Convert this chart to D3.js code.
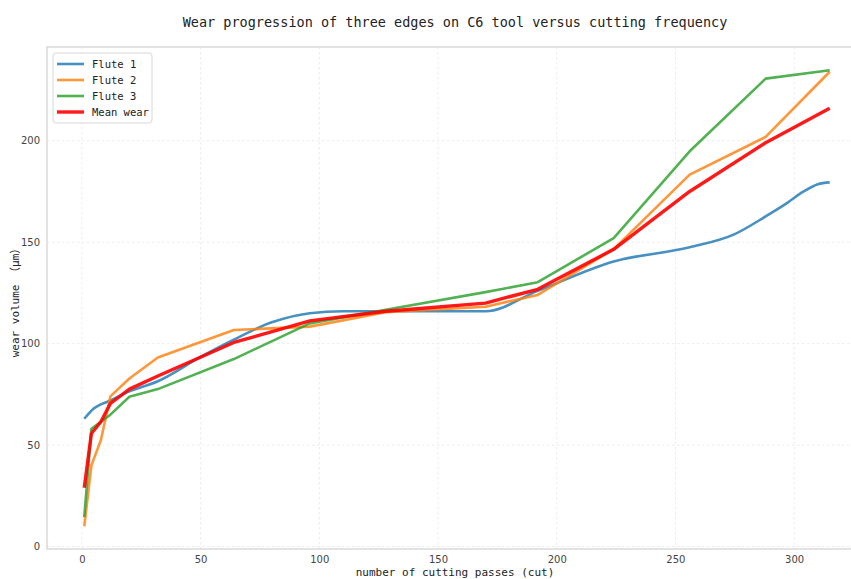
<!DOCTYPE html>
<html>
<head>
<meta charset="utf-8">
<title>Wear progression of three edges on C6 tool</title>
<script src="https://cdn.jsdelivr.net/npm/d3@7"></script>
<style>
  html, body { margin: 0; padding: 0; background: #fff; overflow: hidden; }
  #chart { width: 851px; height: 579px; }
  .tick text { font-family: "DejaVu Sans", sans-serif; font-size: 10px; fill: #444; }
  .grid line { stroke: #ececec; stroke-dasharray: 2.5,2.5; }
  .mono { font-family: "DejaVu Sans Mono", "Noto Sans CJK SC", monospace; fill: #222; }
</style>
</head>
<body>
<div id="chart"></div>
<script>
// cutting passes shared by flute 2, flute 3 and the mean
var passes = [1, 4, 8, 12, 20, 32, 64, 96, 128, 170, 192, 224, 256, 288, 315];
var flute2 = [10, 40, 52.5, 74, 82.8, 93.2, 106.7, 108.4, 115.5, 118.2, 124, 146.6, 183.3, 201.9, 234];
var flute3 = [14.5, 58, 61.5, 65, 73.8, 77.6, 92.4, 110, 116.7, 125.4, 130.3, 152, 194.8, 230.6, 234.7];
var meanWear = [29, 55.7, 61.5, 70.5, 77.6, 84.1, 100.6, 111.2, 116, 120, 126.8, 146.5, 175, 199, 216];

// flute 1 is drawn as a smooth curve, read at more places
var flute1Passes = [1, 5, 12, 20, 32, 50, 64, 80, 96, 110, 170, 192, 224, 256, 275, 288, 296, 304, 310, 315];
var flute1 = [63, 68, 72, 76.5, 81.5, 93.5, 102, 110.5, 115, 116, 116, 126, 140.5, 147.5, 154, 162.7, 168.5, 175, 178.6, 179.5];

var xTicks = [0, 50, 100, 150, 200, 250, 300];
var yTicks = [0, 50, 100, 150, 200];

(function () {
  var width = 851, height = 579;
  var plot = { left: 47, right: 867, top: 47, bottom: 549 };

  var svg = d3.select("#chart").append("svg")
    .attr("width", width)
    .attr("height", height);

  var x = d3.scaleLinear().domain([-14.7, 330.7]).range([plot.left, plot.right]);
  var y = d3.scaleLinear().domain([-1.2, 246.2]).range([plot.bottom, plot.top]);

  // grid
  svg.append("g").attr("class", "grid")
    .selectAll("line.v").data(xTicks).join("line")
    .attr("x1", x).attr("x2", x)
    .attr("y1", plot.top).attr("y2", plot.bottom);
  svg.append("g").attr("class", "grid")
    .selectAll("line.h").data(yTicks).join("line")
    .attr("x1", plot.left).attr("x2", plot.right)
    .attr("y1", y).attr("y2", y);

  // frame
  svg.append("rect")
    .attr("x", plot.left).attr("y", plot.top)
    .attr("width", plot.right - plot.left).attr("height", plot.bottom - plot.top)
    .attr("fill", "none").attr("stroke", "#d0d0d0").attr("stroke-width", 1.2);

  // axes, labels only
  var xAxis = svg.append("g")
    .attr("transform", "translate(0," + plot.bottom + ")")
    .call(d3.axisBottom(x).tickValues(xTicks).tickSize(0).tickPadding(7));
  var yAxis = svg.append("g")
    .attr("transform", "translate(" + plot.left + ",0)")
    .call(d3.axisLeft(y).tickValues(yTicks).tickSize(0).tickPadding(7));
  xAxis.select(".domain").remove();
  yAxis.select(".domain").remove();

  var series = [
    { name: "Flute 1", xs: flute1Passes, ys: flute1, color: "#1f77b4", width: 2.6, opacity: 0.82, curve: d3.curveMonotoneX },
    { name: "Flute 2", xs: passes, ys: flute2, color: "#ff7f0e", width: 2.6, opacity: 0.82, curve: d3.curveLinear },
    { name: "Flute 3", xs: passes, ys: flute3, color: "#2ca02c", width: 2.6, opacity: 0.82, curve: d3.curveLinear },
    { name: "Mean wear", xs: passes, ys: meanWear, color: "#ff0000", width: 3.4, opacity: 0.9, curve: d3.curveLinear }
  ];

  series.forEach(function (s) {
    var line = d3.line()
      .x(function (d, i) { return x(s.xs[i]); })
      .y(function (d) { return y(d); })
      .curve(s.curve);
    svg.append("path")
      .datum(s.ys)
      .attr("d", line)
      .attr("fill", "none")
      .attr("stroke", s.color)
      .attr("stroke-opacity", s.opacity)
      .attr("stroke-width", s.width)
      .attr("stroke-linejoin", "round");
  });

  // legend
  var legend = svg.append("g").attr("transform", "translate(53,53)");
  legend.append("rect")
    .attr("width", 99).attr("height", 70).attr("rx", 3)
    .attr("fill", "#fff").attr("fill-opacity", 0.85)
    .attr("stroke", "#d8d8d8");
  var item = legend.selectAll("g.item").data(series).join("g")
    .attr("transform", function (d, i) { return "translate(0," + (11 + i * 16) + ")"; });
  item.append("line")
    .attr("x1", 4).attr("x2", 31)
    .attr("stroke", function (d) { return d.color; })
    .attr("stroke-opacity", function (d) { return d.opacity; })
    .attr("stroke-width", function (d) { return d.width; });
  item.append("text")
    .attr("class", "mono")
    .attr("x", 39).attr("dy", "0.35em")
    .attr("font-size", 10.5)
    .text(function (d) { return d.name; });

  // titles
  svg.append("text").attr("class", "mono")
    .attr("x", (plot.left + 851) / 2 + 6).attr("y", 27)
    .attr("text-anchor", "middle").attr("font-size", 13.5)
    .text("Wear progression of three edges on C6 tool versus cutting frequency");
  svg.append("text").attr("class", "mono")
    .attr("x", (plot.left + plot.right) / 2 - 2).attr("y", 576)
    .attr("text-anchor", "middle").attr("font-size", 11)
    .text("number of cutting passes (cut)");
  svg.append("text").attr("class", "mono")
    .attr("transform", "translate(19," + ((plot.top + plot.bottom) / 2 + 2) + ") rotate(-90)")
    .attr("text-anchor", "middle").attr("font-size", 11)
    .text("wear volume （μm）");
})();
</script>
</body>
</html>
